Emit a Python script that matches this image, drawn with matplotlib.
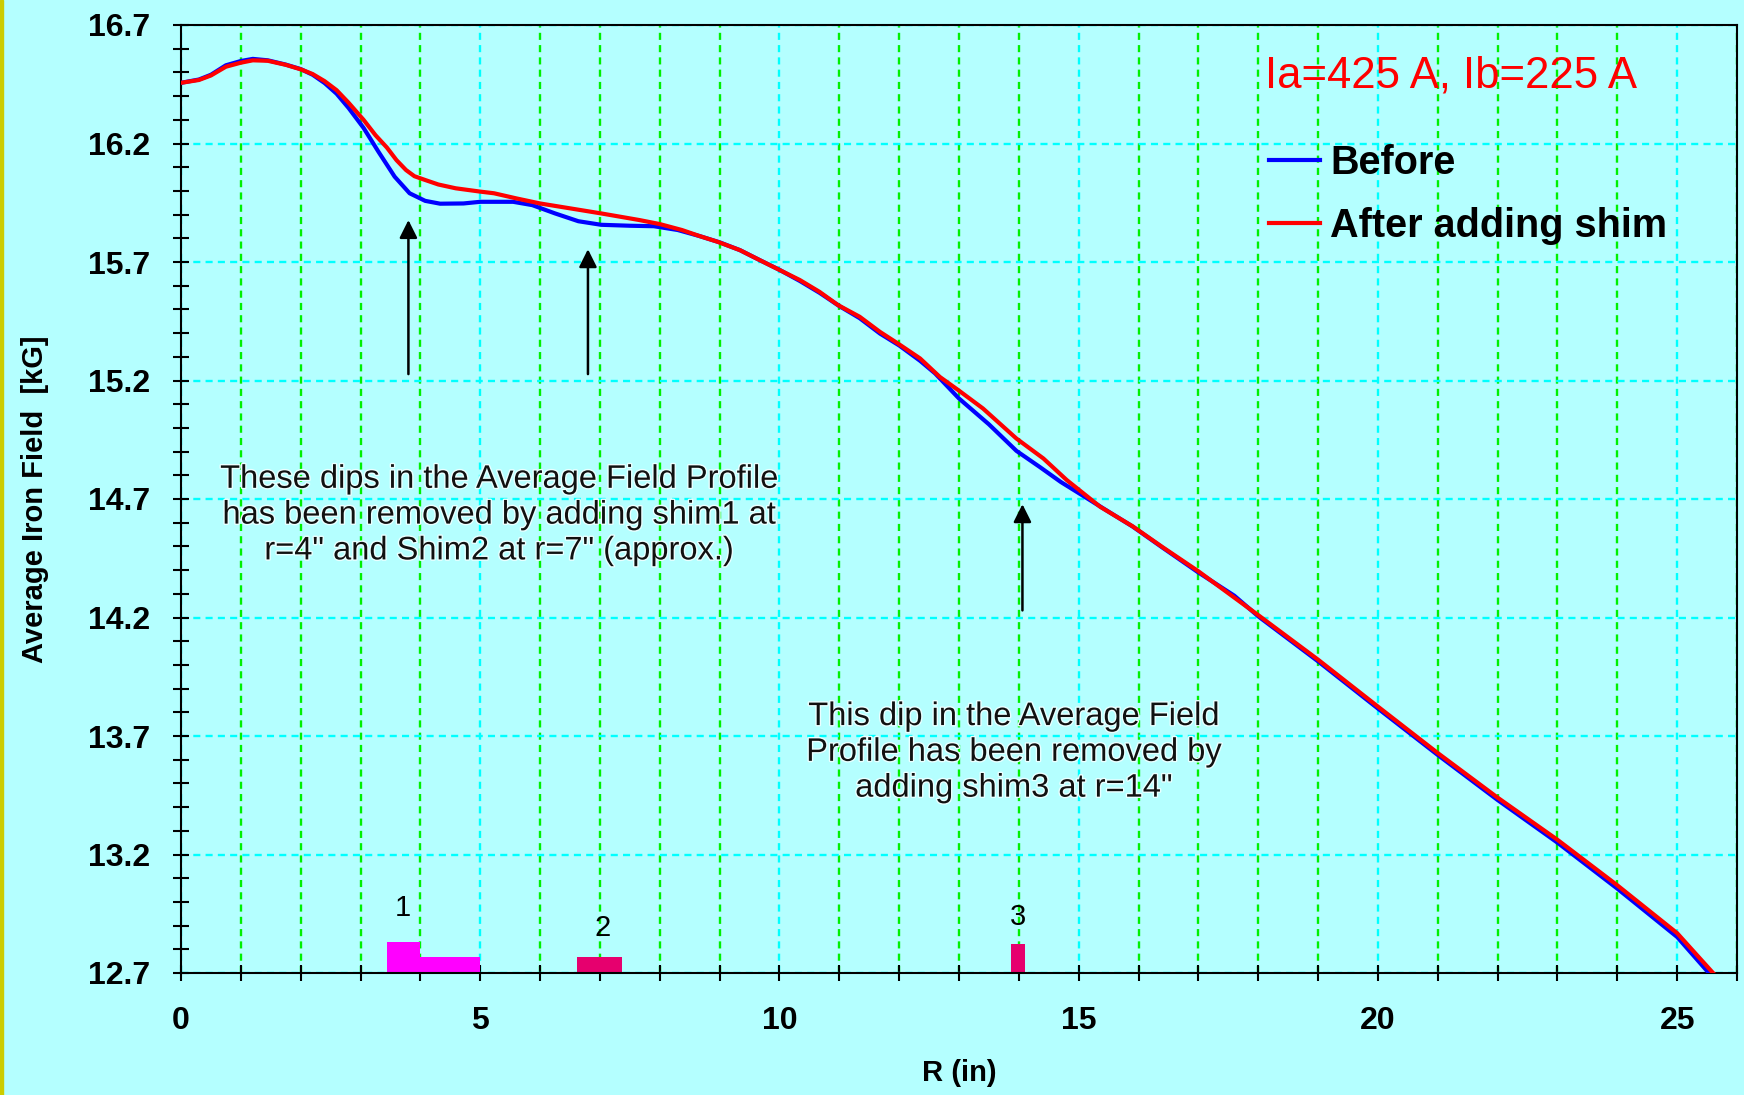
import matplotlib.pyplot as plt
import matplotlib.patheffects as pe
from matplotlib.patches import Rectangle
from matplotlib.ticker import MultipleLocator, FixedLocator

plt.rcParams['font.family'] = ['Liberation Sans', 'DejaVu Sans']

# average iron field profile before shimming
r_before = [0, 0.3, 0.5, 0.75, 1.0, 1.2, 1.45, 1.75, 2.0, 2.2, 2.4, 2.6, 2.8, 3.05, 3.3,
            3.57, 3.82, 4.08, 4.33, 4.72, 5.0, 5.55, 5.87, 6.25, 6.64, 7.02, 7.5, 7.9,
            8.3, 8.67, 9.0, 9.34, 9.67, 10.0, 10.34, 10.67, 11.0, 11.34, 11.68, 12.0,
            12.35, 12.6, 13.0, 13.5, 13.96, 14.35, 14.7, 15.0, 15.4, 15.9, 16.4, 17.0,
            17.6, 18.0, 19.0, 20.0, 21.0, 22.0, 23.0, 24.0, 25.0, 25.53]
b_before = [16.456, 16.47, 16.49, 16.53, 16.548, 16.557, 16.551, 16.533, 16.514, 16.49,
            16.455, 16.41, 16.35, 16.266, 16.165, 16.06, 15.99, 15.958, 15.946, 15.947,
            15.954, 15.954, 15.94, 15.905, 15.872, 15.857, 15.853, 15.851, 15.835, 15.809,
            15.783, 15.75, 15.708, 15.667, 15.62, 15.57, 15.514, 15.463, 15.398, 15.348,
            15.283, 15.23, 15.124, 15.015, 14.903, 14.835, 14.772, 14.725, 14.662, 14.584,
            14.495, 14.39, 14.292, 14.205, 14.015, 13.816, 13.62, 13.43, 13.25, 13.056,
            12.852, 12.7]

# after adding the shims
r_after = [0, 0.3, 0.5, 0.75, 1.0, 1.2, 1.45, 1.75, 2.0, 2.2, 2.4, 2.6, 2.8, 3.05, 3.25,
           3.44, 3.6, 3.76, 3.9, 4.08, 4.3, 4.59, 5.0, 5.23, 5.61, 6.0, 6.51, 7.02, 7.66,
           8.0, 8.37, 8.67, 8.97, 9.34, 9.67, 9.98, 10.34, 10.67, 10.98, 11.34, 11.68,
           11.98, 12.35, 12.68, 12.99, 13.4, 13.96, 14.41, 14.8, 15.36, 15.9, 16.4, 17.0,
           18.0, 19.0, 20.0, 21.0, 22.0, 23.0, 24.0, 25.0, 25.6]
b_after = [16.456, 16.468, 16.487, 16.524, 16.541, 16.551, 16.549, 16.532, 16.513, 16.493,
           16.463, 16.425, 16.372, 16.30, 16.235, 16.183, 16.13, 16.088, 16.062, 16.046,
           16.027, 16.011, 15.997, 15.99, 15.968, 15.947, 15.926, 15.905, 15.877, 15.86,
           15.835, 15.809, 15.785, 15.75, 15.708, 15.669, 15.624, 15.574, 15.518, 15.469,
           15.405, 15.356, 15.293, 15.215, 15.159, 15.082, 14.955, 14.871, 14.78, 14.667,
           14.585, 14.497, 14.395, 14.21, 14.022, 13.824, 13.628, 13.44, 13.262, 13.07,
           12.868, 12.7]

# shim pieces: radial start/end and drawn height
shim_start = [3.45, 4.0, 6.62, 13.87]
shim_end = [4.0, 5.0, 7.37, 14.11]
shim_height = [0.13, 0.068, 0.068, 0.124]
shim_colors = ['#ff00ff', '#ff00ff', '#e6006e', '#e6006e']
shim_names = ['1', '2', '3']
shim_name_x = [3.70, 7.05, 13.99]
shim_name_y = [12.973, 12.889, 12.935]

# arrows marking the dips (r, tail, tip)
arrow_r = [3.80, 6.80, 14.06]
arrow_tail = [15.227, 15.227, 14.23]
arrow_tip = [15.877, 15.754, 14.678]

y_ticks = [12.7, 13.2, 13.7, 14.2, 14.7, 15.2, 15.7, 16.2, 16.7]
x_ticks = [0, 5, 10, 15, 20, 25]

bg = '#b4ffff'
fig = plt.figure(figsize=(17.44, 10.95), dpi=100, facecolor=bg)
ax = fig.add_axes([181 / 1744, 1 - 973 / 1095, 1556 / 1744, 948 / 1095])
ax.set_facecolor(bg)
fig.patches.append(Rectangle((0, 0), 3 / 1744, 1, transform=fig.transFigure,
                             color='#cccc00', zorder=5))

ax.set_xlim(0, 26)
ax.set_ylim(12.7, 16.7)
ax.xaxis.set_major_locator(FixedLocator(x_ticks))
ax.xaxis.set_minor_locator(MultipleLocator(1))
ax.yaxis.set_major_locator(FixedLocator(y_ticks))
ax.yaxis.set_minor_locator(MultipleLocator(0.1))
ax.set_yticklabels([f'{v:.1f}' for v in y_ticks])

ax.tick_params(which='both', direction='inout', length=12, width=1.5, color='black')
ax.tick_params(axis='x', which='major', pad=18)
ax.tick_params(axis='y', which='major', pad=16)
ax.tick_params(axis='y', which='minor', length=11)
for lab in ax.get_xticklabels() + ax.get_yticklabels():
    lab.set_fontweight('bold')
    lab.set_fontsize(23)
for s in ax.spines.values():
    s.set_linewidth(1.5)

ax.grid(which='major', axis='both', color='#00ffff', lw=1.7, dashes=(3.0, 2.2))
ax.grid(which='minor', axis='x', color='#00f000', lw=1.7, dashes=(3.0, 2.2))
ax.set_axisbelow(True)

line_b, = ax.plot(r_before, b_before, color='#0000ff', lw=3, zorder=3)
line_a, = ax.plot(r_after, b_after, color='#ff0000', lw=3, zorder=4)

for x0, x1, h, c in zip(shim_start, shim_end, shim_height, shim_colors):
    ax.bar(x0, h, width=x1 - x0, bottom=12.7, align='edge', color=c, zorder=2)
for n, x, y in zip(shim_names, shim_name_x, shim_name_y):
    ax.text(x, y, n, ha='center', va='center', fontsize=21)

for x, y0, y1 in zip(arrow_r, arrow_tail, arrow_tip):
    ax.annotate('', xy=(x, y1), xytext=(x, y0),
                arrowprops=dict(arrowstyle='-|>,head_length=0.6,head_width=0.3',
                                color='black', lw=1.8, mutation_scale=18,
                                shrinkA=0, shrinkB=0))

halo = [pe.withStroke(linewidth=2, foreground='#eaffff')]
ax.text(5.32, 14.632, 'These dips in the Average Field Profile\n'
        'has been removed by adding shim1 at\n'
        'r=4" and Shim2 at r=7" (approx.)',
        ha='center', va='center', fontsize=23.5, linespacing=1.2,
        color='#111111', path_effects=halo)
ax.text(13.92, 13.631, 'This dip in the Average Field\n'
        'Profile has been removed by\n'
        'adding shim3 at r=14"',
        ha='center', va='center', fontsize=23.5, linespacing=1.2,
        color='#111111', path_effects=halo)

fig.text(1451 / 1744, 1 - 76 / 1095, 'Ia=425 A, Ib=225 A', color='#ff0000',
         fontsize=31.5, ha='center', va='center')

fig.legend([line_b, line_a], ['Before', 'After adding shim'],
           loc='upper left', bbox_to_anchor=(1269 / 1744, 1 - 144 / 1095),
           bbox_transform=fig.transFigure, frameon=False, borderpad=0,
           borderaxespad=0, handlelength=1.3, handletextpad=0.25,
           labelspacing=0.62, prop={'weight': 'bold', 'size': 28.5})

ax.set_xlabel('R (in)', fontsize=21, fontweight='bold')
ax.set_ylabel('Average Iron Field  [kG]', fontsize=21, fontweight='bold')
ax.xaxis.set_label_coords(0.5, -(1073 - 973) / 948, transform=ax.transAxes)
ax.yaxis.set_label_coords(-(181 - 35) / 1556, 0.5, transform=ax.transAxes)
ax.xaxis.label.set_va('center')
ax.yaxis.label.set_va('center')

fig.savefig('out.png', dpi=100, facecolor=bg)
